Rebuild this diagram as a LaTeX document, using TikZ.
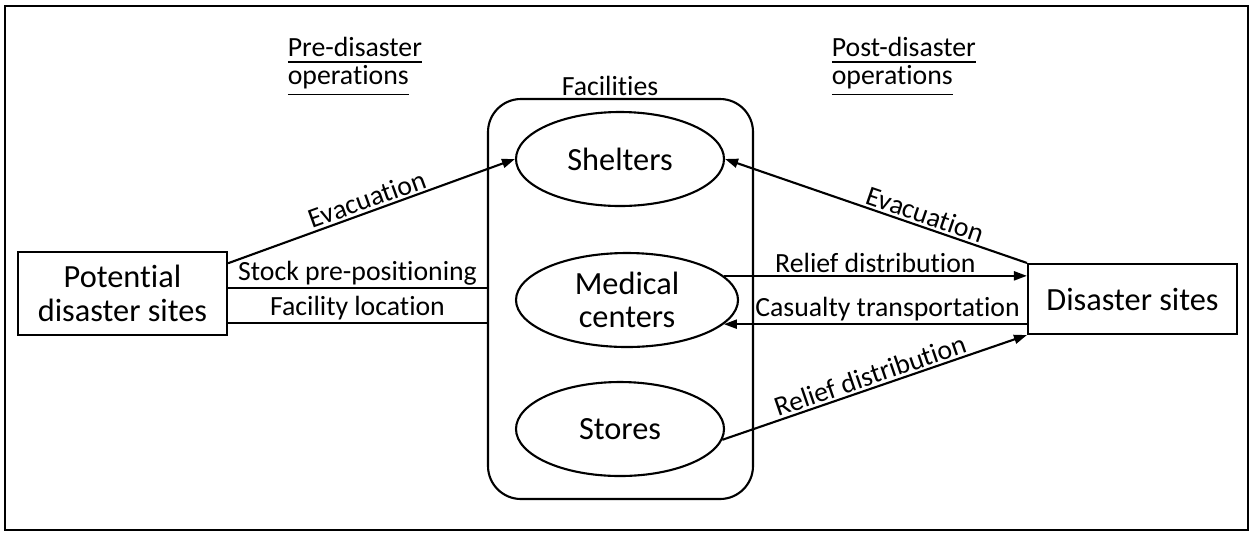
\documentclass[tikz,border=0pt]{standalone}
\usepackage{fontspec}
\setmainfont{Carlito}[Ligatures=NoCommon]
\usetikzlibrary{arrows.meta,shapes.geometric}
\tikzset{
  sitebox/.style={draw,line width=0.6pt,inner sep=0pt,minimum width=2.09cm,align=center,font=\fontsize{9.2}{9.5}\selectfont},
  facell/.style={draw,ellipse,line width=0.6pt,inner sep=0pt,minimum height=0.94cm,align=center,font=\fontsize{9.2}{9.5}\selectfont},
  flow/.style={line width=0.6pt,-{Triangle[length=1.3mm,width=0.9mm]}},
  link/.style={line width=0.6pt},
  lbl/.style={font=\fontsize{7.9}{8}\selectfont,inner sep=0.6pt}
}

\begin{document}
\begin{tikzpicture}
\useasboundingbox (0,0) rectangle (12.51,5.33);
\draw[line width=0.8pt] (0.05,0.03) rectangle (12.48,5.27);
\node[lbl,anchor=west,align=left] (pre) at (2.85,4.66) {\underline{Pre-disaster}\\\underline{operations}};
\node[lbl,anchor=west,align=left] (post) at (8.29,4.66) {\underline{Post-disaster}\\\underline{operations}};
\node[lbl] (faclbl) at (6.10,4.47) {Facilities};
\node[draw,rounded corners=0.33cm,line width=0.6pt,minimum width=2.65cm,minimum height=4.00cm] (fac) at (6.205,2.34) {};
\foreach \n/\x/\y/\w/\t in {shel/6.20/3.74/2.08/Shelters, med/6.27/2.33/2.22/{Medical\\centers}, sto/6.20/1.04/2.08/Stores} {
    \node[facell,minimum width=\w cm] (\n) at (\x,\y) {\t};
}
\node[sitebox,minimum height=0.83cm] (pot) at (1.225,2.395) {Potential\\disaster sites};
\node[sitebox,minimum height=0.70cm] (dis) at (11.325,2.34) {Disaster sites};
\coordinate (sp) at ([yshift=0.055cm]pot.east);
\coordinate (fl) at ([yshift=-0.295cm]pot.east);
\draw[flow] (pot.16) -- node[lbl,midway,above,sloped] {Evacuation} (shel.west);
\draw[link] (sp) -- node[lbl,above] {Stock pre-positioning} (sp -| fac.west);
\draw[link] (fl) -- node[lbl,above] {Facility location} (fl -| fac.west);
\draw[flow] (dis.north west) -- node[lbl,pos=0.35,above,sloped] {Evacuation} (shel.east);
\draw[flow] (med.14) -- node[lbl,above] {Relief distribution} (med.14 -| dis.west);
\draw[flow] (med.-14 -| dis.west) -- node[lbl,pos=0.46,above] {Casualty transportation} (med.-14);
\draw[flow] (sto.-6) -- node[lbl,midway,above,sloped] {Relief distribution} (dis.south west);
\end{tikzpicture}
\end{document}
